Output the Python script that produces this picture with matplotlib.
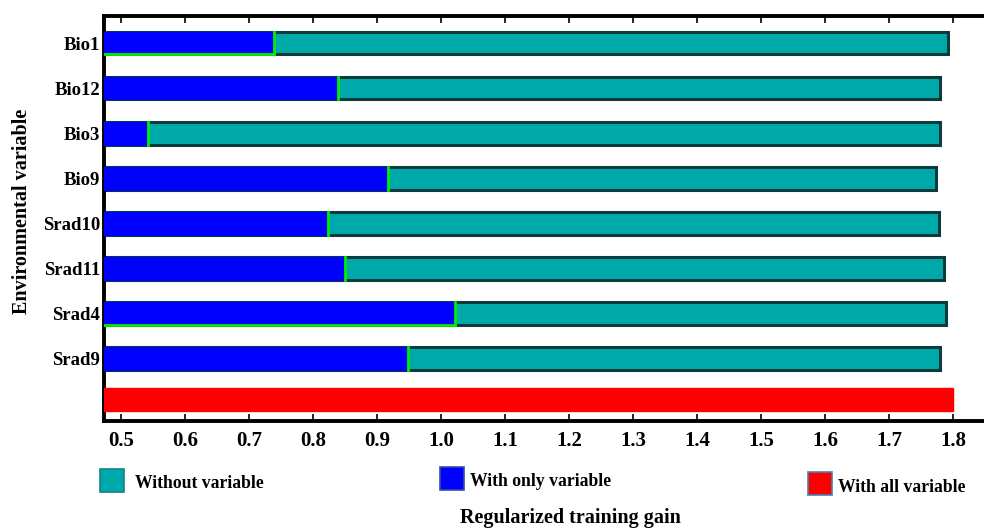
import matplotlib.pyplot as plt
from matplotlib.patches import Rectangle

plt.rcParams['font.family'] = ['Liberation Serif', 'DejaVu Serif']
plt.rcParams['font.weight'] = 'bold'

variables = ['Bio1', 'Bio12', 'Bio3', 'Bio9', 'Srad10', 'Srad11', 'Srad4', 'Srad9']
with_only = [0.738, 0.839, 0.541, 0.916, 0.823, 0.850, 1.022, 0.948]
without = [1.792, 1.780, 1.780, 1.773, 1.777, 1.786, 1.789, 1.780]
with_all = 1.800

teal = '#00a9a9'
blue = '#0000ff'
red = '#ff0000'
green = '#00ee00'

fig = plt.figure(figsize=(9.84, 5.28), dpi=100)
ax = fig.add_axes([0.1057, 0.2027, 0.8943, 0.7670])

n = len(variables)
ypos = list(range(n))
h = 0.5

for i, y in enumerate(ypos):
    ax.barh(y, without[i], height=h, left=0, color=teal, edgecolor='#0b3b3b', linewidth=2.2, zorder=2)
    ax.barh(y, with_only[i], height=h, left=0, color=blue, edgecolor=blue, linewidth=0.8, zorder=3)
    ax.plot([with_only[i], with_only[i]], [y - h / 2, y + h / 2], color=green, lw=2, zorder=4)
# green bottom edge on two bars, as in the original
for i in (0, 6):
    ax.plot([0, with_only[i]], [ypos[i] + h / 2, ypos[i] + h / 2], color=green, lw=2, zorder=4)

ax.barh(n - 0.1, with_all, height=h, left=0, color=red, edgecolor=red, zorder=3)

ax.set_xlim(0.473, 1.848)
ax.set_ylim(n + 0.38, -0.6)
ax.set_yticks(ypos)
ax.set_yticklabels(variables, fontsize=13.5, fontweight='bold')
ax.set_xticks([0.5 + 0.1 * k for k in range(14)])
ax.set_xticklabels([f'{0.5 + 0.1 * k:.1f}' for k in range(14)], fontsize=15, fontweight='bold')
ax.tick_params(axis='y', length=0, pad=3)
ax.tick_params(axis='x', direction='in', length=5, width=1.2, top=True, pad=7)

for s in ('left', 'top', 'bottom'):
    ax.spines[s].set_linewidth(2.8)
ax.spines['right'].set_visible(False)

fig.text(0.022, 0.60, 'Environmental variable', rotation=90, ha='center', va='center',
         fontsize=14.5, fontweight='bold')
fig.text(0.58, 0.018, 'Regularized training gain', ha='center', va='center',
         fontsize=14.5, fontweight='bold')

# legend boxes
W, H = 984, 528
legend = [(100, 469, teal, '#1a7f8f', 'Without variable', 135),
          (440, 467, blue, '#3050a0', 'With only variable', 470),
          (808, 472, red, '#4a7fb0', 'With all variable', 838)]
for x0, y0, fc, ec, label, tx in legend:
    fig.patches.append(Rectangle((x0 / W, 1 - (y0 + 23) / H), 24 / W, 23 / H,
                                 transform=fig.transFigure, facecolor=fc,
                                 edgecolor=ec, linewidth=1.2))
    fig.text(tx / W, 1 - (y0 + 15) / H, label, ha='left', va='center',
             fontsize=12.7, fontweight='bold')

fig.savefig('out.png', dpi=100)
